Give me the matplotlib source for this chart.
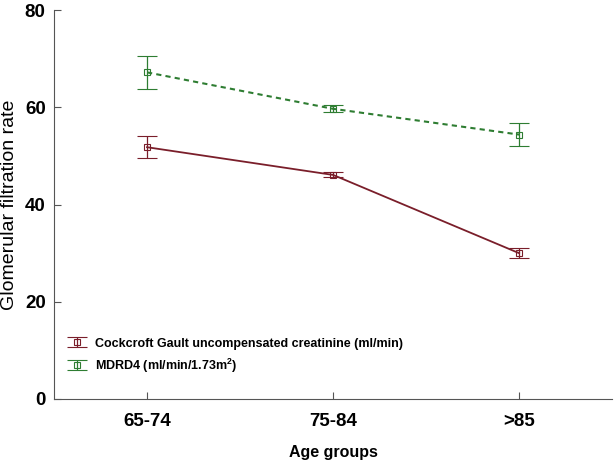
import numpy as np
import matplotlib.pyplot as plt
from matplotlib.lines import Line2D
from matplotlib.legend_handler import HandlerErrorbar

plt.rcParams['font.family'] = ['Liberation Sans', 'DejaVu Sans']

# data
groups = ['65-74', '75-84', '>85']
cg_mean = [51.8, 46.1, 30.0]
cg_err = [2.3, 0.5, 1.0]
mdrd_mean = [67.2, 59.7, 54.4]
mdrd_err = [3.4, 0.7, 2.3]

x = np.arange(len(groups))
red = '#7a1e2a'
green = '#2e7d32'


# legend shows only the bar, caps and marker (no connecting line)
class BarOnly(HandlerErrorbar):
    def create_artists(self, *args, **kwargs):
        arts = super().create_artists(*args, **kwargs)
        for a in arts:
            if isinstance(a, Line2D) and a.get_linestyle() not in ('None', ''):
                a.set_visible(False)
        return arts


fig = plt.figure(figsize=(6.14, 4.61), dpi=100)
ax = fig.add_axes([0.088, 0.1345, 0.909, 0.8435])

ax.errorbar(x, cg_mean, yerr=cg_err, color=red, lw=1.3, marker='s', ms=5,
            mfc='none', mec=red, mew=0.8, ecolor=red, elinewidth=0.9,
            capsize=7, capthick=0.9,
            label='Cockcroft Gault uncompensated creatinine (ml/min)')
ax.errorbar(x, mdrd_mean, yerr=mdrd_err, color=green, lw=1.5, ls=(0, (2.5, 2)),
            marker='s', ms=5, mfc='none', mec=green, mew=0.8, ecolor=green,
            elinewidth=0.9, capsize=7, capthick=0.9,
            label='MDRD4 (ml/min/1.73m$^{\\mathregular{2}}$)')

ax.set_xlim(-0.5, 2.5)
ax.set_ylim(0, 80)
ax.set_yticks([0, 20, 40, 60, 80])
ax.set_xticks(x)
ax.set_xticklabels(groups)
for lbl in ax.get_xticklabels() + ax.get_yticklabels():
    lbl.set_fontweight('bold')
    lbl.set_fontsize(13.5)
ax.tick_params(direction='in', length=5, color='#555555', pad=6)
ax.tick_params(axis='x', pad=10)

ax.spines['top'].set_visible(False)
ax.spines['right'].set_visible(False)
ax.spines['left'].set_color('#555555')
ax.spines['bottom'].set_color('#555555')

ax.set_ylabel('Glomerular filtration rate', fontsize=14)
ax.yaxis.set_label_coords(-0.064, 0.5)
ax.set_xlabel('Age groups', fontsize=11.5, fontweight='bold', labelpad=11)

leg = ax.legend(loc='lower left', bbox_to_anchor=(0.01, 0.03), frameon=False,
                prop={'weight': 'bold', 'size': 9}, handlelength=0.8,
                handletextpad=1.0, labelspacing=0.55, borderaxespad=0.6,
                handler_map={type(ax.containers[0]): BarOnly(xerr_size=0.4)})

fig.savefig('out.png', dpi=100)
